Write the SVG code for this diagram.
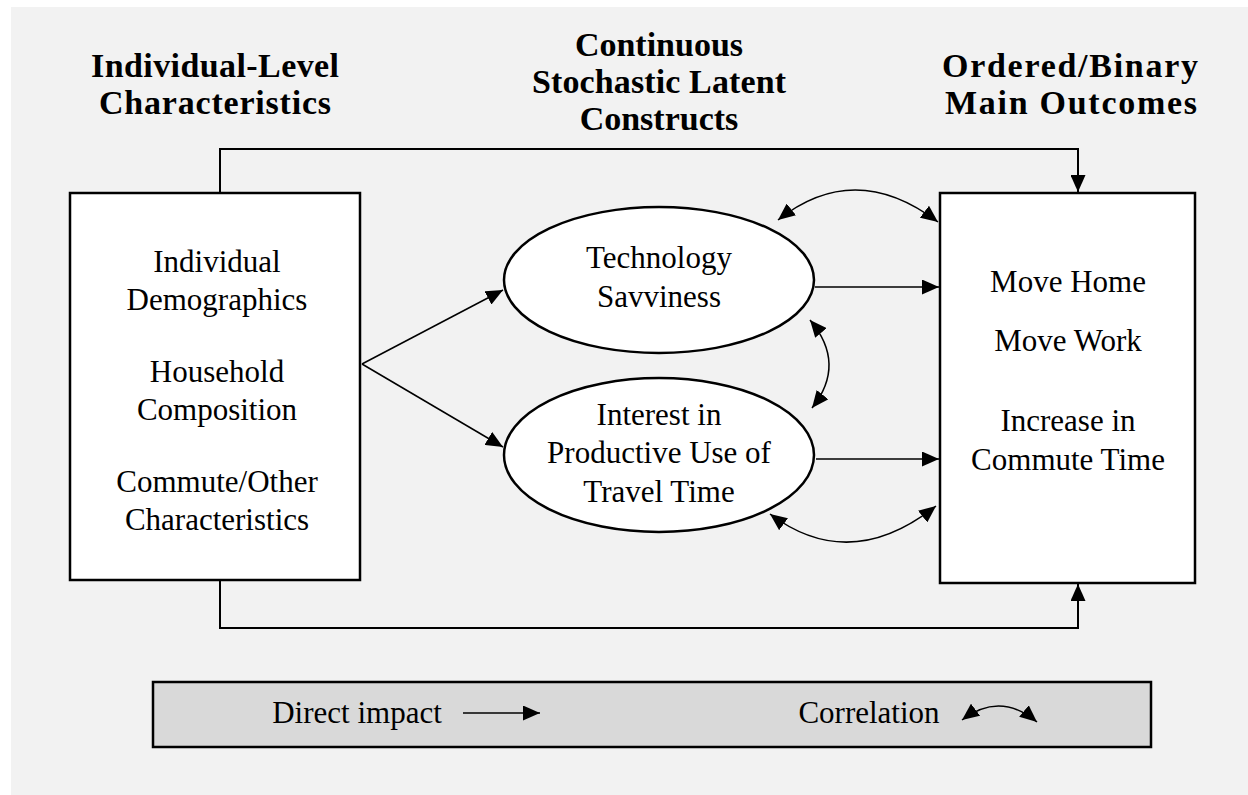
<svg xmlns="http://www.w3.org/2000/svg" width="1248" height="795" viewBox="0 0 1248 795">
<defs>
<marker id="ah" markerUnits="userSpaceOnUse" markerWidth="17" markerHeight="15" refX="17" refY="7.5" orient="auto-start-reverse"><path d="M0,0 L17,7.5 L0,15 z" fill="#000"/></marker>
<style>
.t{font-family:"Liberation Serif","Times New Roman",serif;font-size:31px;fill:#000;text-anchor:middle}
.h{font-family:"Liberation Serif","Times New Roman",serif;font-size:34px;font-weight:bold;fill:#000;text-anchor:middle}
.box{fill:#fff;stroke:#000;stroke-width:2.5}
.ln{fill:none;stroke:#000;stroke-width:1.5}
.frame{fill:none;stroke:#000;stroke-width:2}
</style>
</defs>
<rect x="0" y="0" width="1248" height="795" fill="#fff"/>
<rect x="11" y="7" width="1237" height="788" fill="#f2f2f2"/>

<g id="titles">
<text class="h" x="215" y="77" textLength="248" lengthAdjust="spacing">Individual-Level</text>
<text class="h" x="215" y="114" textLength="232" lengthAdjust="spacing">Characteristics</text>
<text class="h" x="659" y="56">Continuous</text>
<text class="h" x="659" y="93" textLength="254" lengthAdjust="spacing">Stochastic Latent</text>
<text class="h" x="659" y="130">Constructs</text>
<text class="h" x="1070" y="77" textLength="256" lengthAdjust="spacing">Ordered/Binary</text>
<text class="h" x="1071" y="114" textLength="252" lengthAdjust="spacing">Main Outcomes</text>
</g>

<g id="connectors">
<path class="frame" d="M220,193 V149 H1078 V192" marker-end="url(#ah)"/>
<path class="frame" d="M220,580 V628 H1078 V584" marker-end="url(#ah)"/>
<path class="ln" d="M362,364 L503,290" marker-end="url(#ah)"/>
<path class="ln" d="M362,364 L503,447" marker-end="url(#ah)"/>
<path class="ln" d="M815,287 L939,287" marker-end="url(#ah)"/>
<path class="ln" d="M816,459 L939,459" marker-end="url(#ah)"/>
<path class="ln" d="M778,220 Q855,159 938,222" marker-start="url(#ah)" marker-end="url(#ah)"/>
<path class="ln" d="M810,320 Q847,364 812,408" marker-start="url(#ah)" marker-end="url(#ah)"/>
<path class="ln" d="M770,514 Q850,574 936,506" marker-start="url(#ah)" marker-end="url(#ah)"/>
</g>

<g id="left-box">
<rect class="box" x="70" y="193" width="290" height="387"/>
<text class="t" x="217" y="272">Individual</text>
<text class="t" x="217" y="310">Demographics</text>
<text class="t" x="217" y="382">Household</text>
<text class="t" x="217" y="420">Composition</text>
<text class="t" x="217" y="492">Commute/Other</text>
<text class="t" x="217" y="530">Characteristics</text>
</g>

<g id="tech-savviness">
<ellipse cx="659" cy="280" rx="155" ry="73" fill="#fff" stroke="#000" stroke-width="2.5"/>
<text class="t" x="659" y="268">Technology</text>
<text class="t" x="659" y="307">Savviness</text>
</g>

<g id="productive-use">
<ellipse cx="659" cy="455" rx="155" ry="77" fill="#fff" stroke="#000" stroke-width="2.5"/>
<text class="t" x="659" y="425">Interest in</text>
<text class="t" x="659" y="463">Productive Use of</text>
<text class="t" x="659" y="502">Travel Time</text>
</g>

<g id="right-box">
<rect class="box" x="940" y="193" width="255" height="390"/>
<text class="t" x="1068" y="292">Move Home</text>
<text class="t" x="1068" y="351">Move Work</text>
<text class="t" x="1068" y="431">Increase in</text>
<text class="t" x="1068" y="470">Commute Time</text>
</g>

<g id="legend">
<rect x="153" y="682" width="998" height="65" fill="#d9d9d9" stroke="#000" stroke-width="2.5"/>
<text class="t" x="357" y="723" font-size="30">Direct impact</text>
<path class="ln" d="M463,713 L540,713" marker-end="url(#ah)"/>
<text class="t" x="869" y="723" font-size="30">Correlation</text>
<path class="ln" d="M962,720 Q1000,691 1037,722" marker-start="url(#ah)" marker-end="url(#ah)"/>
</g>
</svg>
